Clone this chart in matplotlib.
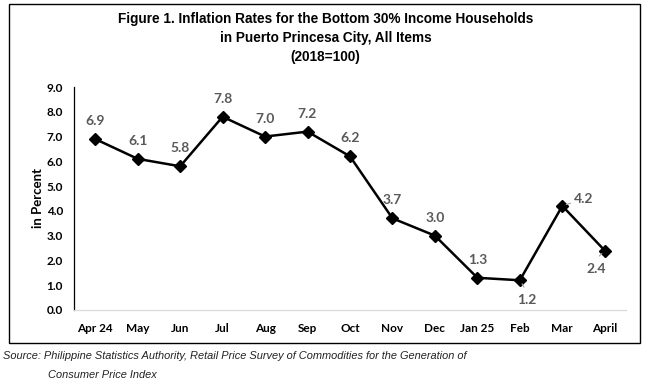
import matplotlib
matplotlib.use("Agg")
import matplotlib.pyplot as plt
from matplotlib import font_manager
from matplotlib.patches import Rectangle

months = ["Apr 24", "May", "Jun", "Jul", "Aug", "Sep", "Oct",
          "Nov", "Dec", "Jan 25", "Feb", "Mar", "April"]
rates = [6.9, 6.1, 5.8, 7.8, 7.0, 7.2, 6.2, 3.7, 3.0, 1.3, 1.2, 4.2, 2.4]
y_ticks = [0, 1, 2, 3, 4, 5, 6, 7, 8, 9]

title = ("Figure 1. Inflation Rates for the Bottom 30% Income Households\n"
         "in Puerto Princesa City, All Items\n(2018=100)")
source_1 = ("Source: Philippine Statistics Authority, Retail Price Survey of "
            "Commodities for the Generation of")
source_2 = "Consumer Price Index"


def pick_font(names):
    for name in names:
        try:
            font_manager.findfont(name, fallback_to_default=False)
            return name
        except Exception:
            continue
    return "DejaVu Sans"


title_font = pick_font(["Liberation Sans Narrow", "Liberation Sans"])
label_font = pick_font(["Lato", "Open Sans", "DejaVu Sans"])
label_grey = "#595959"

fig = plt.figure(figsize=(6.51, 3.92), dpi=100)
ax = fig.add_axes([74 / 651, 1 - 310 / 392, 552 / 651, 223 / 392])

x = list(range(len(months)))
ax.plot(x, rates, color="black", linewidth=1.8, marker="D",
        markersize=6.5, zorder=3)

# data labels, mostly above the point
offsets = {10: (5, -14.5), 11: (15, 5), 12: (-6, -13)}
for i, v in enumerate(rates):
    dx, dy = offsets.get(i, (0, 13))
    ax.annotate(f"{v:.1f}", (i, v), xytext=(dx, dy),
                textcoords="offset points", ha="center", va="center",
                fontsize=10, fontweight="bold", color=label_grey,
                family=label_font)

# small leader lines on the labels moved off the point
for i, (dx, dy) in {10: (3, -5), 11: (6, 2), 12: (-4, -4)}.items():
    ax.annotate("", (i, rates[i]), xytext=(dx, dy),
                textcoords="offset points",
                arrowprops=dict(arrowstyle="-", color="#a6a6a6", lw=0.8,
                                shrinkA=0, shrinkB=3))

ax.set_xlim(-0.5, len(months) - 0.5)
ax.set_ylim(0, 9)
ax.set_xticks(x)
ax.set_xticklabels(months)
ax.set_yticks(y_ticks)
ax.set_yticklabels([f"{t:.1f}" for t in y_ticks])
ax.tick_params(length=0, labelsize=8.5, colors="black")
ax.tick_params(axis="x", pad=9)
ax.tick_params(axis="y", pad=8)
for lab in ax.get_xticklabels() + ax.get_yticklabels():
    lab.set_fontweight("bold")
    lab.set_family(label_font)

ax.set_ylabel("in Percent", fontsize=9.5, fontweight="bold",
              family=label_font, labelpad=2)

for side in ["top", "right"]:
    ax.spines[side].set_visible(False)
ax.spines["left"].set_color("black")
ax.spines["left"].set_linewidth(0.9)
ax.spines["bottom"].set_color("#d9d9d9")
ax.spines["bottom"].set_linewidth(0.9)

fig.text(0.5, 1 - 38 / 392, title, ha="center", va="center", fontsize=9.8,
         fontweight="bold", family=title_font, linespacing=1.5)

fig.patches.append(Rectangle((9 / 651, 1 - 343 / 392), 631 / 651, 339 / 392,
                             transform=fig.transFigure, fill=False,
                             edgecolor="black", linewidth=1.0))

fig.text(3 / 651, 1 - 356 / 392, source_1, ha="left", va="center",
         fontsize=7.9, style="italic", family="Liberation Sans",
         color="#222222")
fig.text(48 / 651, 1 - 375 / 392, source_2, ha="left", va="center",
         fontsize=7.9, style="italic", family="Liberation Sans",
         color="#222222")

fig.savefig("out.png", dpi=100)
